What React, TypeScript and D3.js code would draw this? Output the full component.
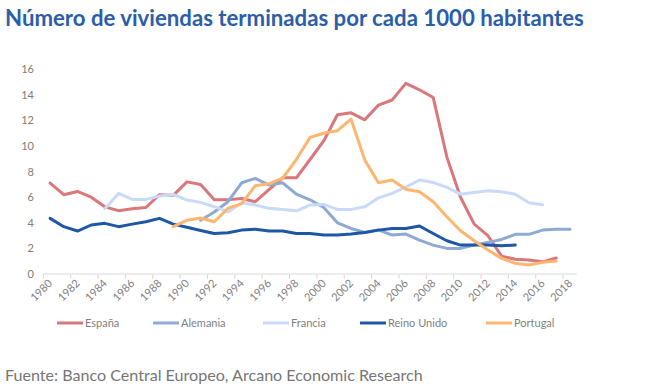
import React from "react";
import * as d3 from "d3";

const years: number[] = d3.range(1980, 2019);
const yTicks: number[] = [0, 2, 4, 6, 8, 10, 12, 14, 16];
const xLabelYears: number[] = d3.range(1980, 2019, 2);

const espanaStart = 1980;
const espana = [7.1, 6.2, 6.45, 6.0, 5.25, 4.95, 5.1, 5.2, 6.2, 6.15, 7.2, 7.0, 5.8, 5.8, 5.9, 5.65, 6.6, 7.52, 7.52, 8.95, 10.4, 12.45, 12.6, 12.05, 13.2, 13.6, 14.9, 14.4, 13.8, 9.15, 6.0, 3.9, 3.0, 1.4, 1.15, 1.1, 0.95, 1.25];

const alemaniaStart = 1991;
const alemania = [4.2, 4.85, 5.65, 7.13, 7.47, 6.95, 7.13, 6.24, 5.8, 5.2, 4.0, 3.56, 3.25, 3.45, 3.04, 3.12, 2.65, 2.26, 2.0, 2.0, 2.26, 2.47, 2.7, 3.1, 3.1, 3.43, 3.5, 3.5];

const franciaStart = 1984;
const francia = [5.1, 6.3, 5.83, 5.83, 6.09, 6.22, 5.78, 5.6, 5.26, 4.85, 5.57, 5.39, 5.13, 5.05, 4.94, 5.39, 5.44, 5.05, 5.05, 5.26, 5.95, 6.3, 6.8, 7.34, 7.16, 6.77, 6.24, 6.37, 6.5, 6.43, 6.24, 5.57, 5.41];

const reinoUnidoStart = 1980;
const reinoUnido = [4.35, 3.7, 3.36, 3.83, 3.96, 3.7, 3.9, 4.08, 4.35, 3.9, 3.65, 3.4, 3.17, 3.22, 3.43, 3.5, 3.36, 3.36, 3.17, 3.17, 3.04, 3.04, 3.12, 3.25, 3.43, 3.56, 3.56, 3.75, 3.17, 2.6, 2.26, 2.26, 2.26, 2.21, 2.26];

const portugalStart = 1989;
const portugal = [3.7, 4.2, 4.38, 4.08, 5.13, 5.5, 6.9, 7.05, 7.5, 8.95, 10.68, 11.0, 11.2, 12.1, 8.9, 7.13, 7.34, 6.63, 6.43, 5.65, 4.47, 3.38, 2.6, 1.87, 1.22, 0.83, 0.7, 0.91, 1.01];

const seriesNames = ["España", "Alemania", "Francia", "Reino Unido", "Portugal"];
const seriesColors = ["#D9777B", "#8DAAD3", "#C9DAF8", "#1F57A7", "#FDB66F"];
const seriesData = [espana, alemania, francia, reinoUnido, portugal];
const seriesStarts = [espanaStart, alemaniaStart, franciaStart, reinoUnidoStart, portugalStart];
const legendX = [57, 153, 263, 360, 486];

const FONT = "Lato, 'Open Sans', sans-serif";

export default function App() {
  const W = 652, H = 391;
  const x = d3.scaleBand<number>().domain(years).range([43.3, 576.8]).padding(0);
  const y = d3.scaleLinear().domain([0, 16]).range([274, 69.3]);
  const cx = (yr: number) => (x(yr) as number) + x.bandwidth() / 2;

  const tickXs = d3.range(0, years.length + 1, 2).map((i) => 43.3 + i * x.bandwidth());

  return (
    <svg width={W} height={H} style={{ position: "absolute", left: 0, top: 0, background: "#fff" }}>
      <text x={5} y={26} fontFamily={FONT} fontWeight={700} fontSize={22.2} fill="#2B5EA9">
        Número de viviendas terminadas por cada 1000 habitantes
      </text>

      {yTicks.map((t) => (
        <text key={t} x={34} y={y(t) + 4} textAnchor="end" fontFamily={FONT} fontSize={11} fill="#857C73">
          {t}
        </text>
      ))}

      <line x1={43.3} x2={576.8} y1={274} y2={274} stroke="#D9D9D9" strokeWidth={1} />
      {tickXs.map((tx, i) => (
        <line key={i} x1={tx} x2={tx} y1={274} y2={279} stroke="#D9D9D9" strokeWidth={1} />
      ))}

      {xLabelYears.map((yr) => (
        <text
          key={yr}
          transform={`translate(${cx(yr) + 3},${284}) rotate(-45)`}
          textAnchor="end"
          fontFamily={FONT}
          fontSize={11}
          fill="#7F7F7F"
        >
          {yr}
        </text>
      ))}

      {seriesData.map((vals, si) => {
        const line = d3
          .line<number>()
          .x((_, i) => cx(seriesStarts[si] + i))
          .y((d) => y(d));
        return (
          <path
            key={si}
            d={line(vals) || ""}
            fill="none"
            stroke={seriesColors[si]}
            strokeWidth={3}
            strokeLinejoin="round"
            strokeLinecap="round"
          />
        );
      })}

      {seriesNames.map((n, i) => (
        <g key={n}>
          <line x1={legendX[i]} x2={legendX[i] + 26} y1={323} y2={323} stroke={seriesColors[i]} strokeWidth={3} />
          <text x={legendX[i] + 28} y={327} fontFamily={FONT} fontSize={11} fill="#7F7F7F">
            {n}
          </text>
        </g>
      ))}

      <text x={5} y={381} fontFamily={FONT} fontSize={16.1} fill="#767676">
        Fuente: Banco Central Europeo, Arcano Economic Research
      </text>
    </svg>
  );
}
